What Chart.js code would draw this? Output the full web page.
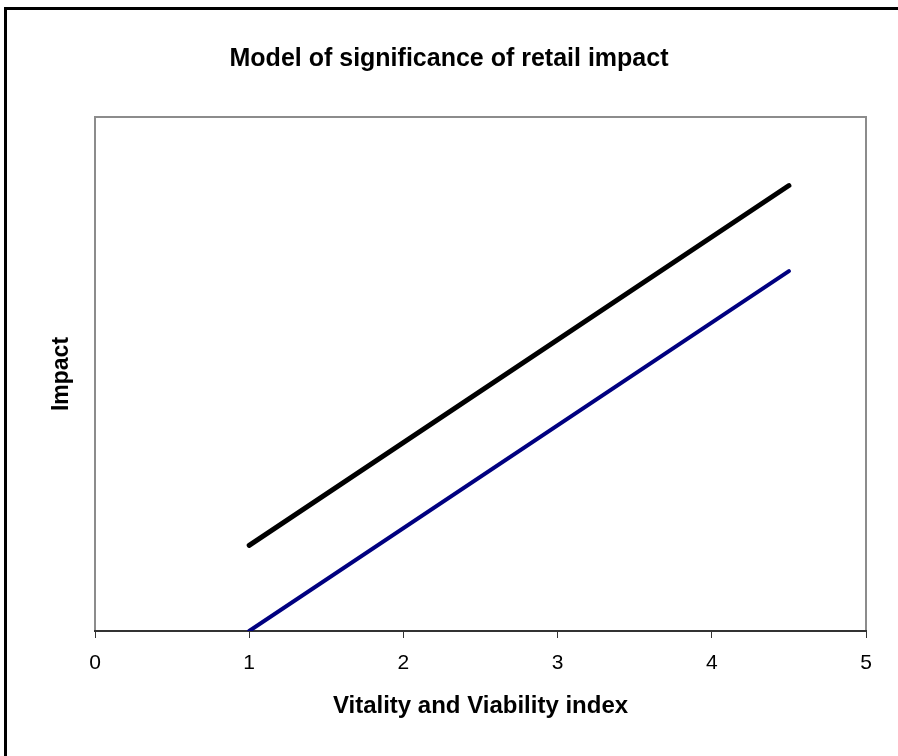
<!DOCTYPE html>
<html>
<head>
<meta charset="utf-8">
<script src="https://cdn.jsdelivr.net/npm/chart.js@4/dist/chart.umd.min.js"></script>
<style>
  html, body { margin: 0; padding: 0; background: #fff; }
  canvas { display: block; }
</style>
</head>
<body>
<canvas id="chart" width="898" height="756"></canvas>
<script>
// values (y axis has no visible scale, 0..6 assumed)
const xTicks = [0, 1, 2, 3, 4, 5];
const upperX = [1, 4.5];
const upperY = [1, 5.2];
const lowerX = [1, 4.5];
const lowerY = [0, 4.2];

const FONT = "'Liberation Sans', Arial, sans-serif";

const toPoints = (xs, ys) => xs.map((x, i) => ({ x, y: ys[i] }));

// white page, black frame on top/left, grey box round the plot
const framePlugin = {
    id: "frame",
    beforeDraw(chart) {
        const ctx = chart.ctx;
        ctx.save();
        ctx.fillStyle = "#fff";
        ctx.fillRect(0, 0, chart.width, chart.height);
        ctx.strokeStyle = "#000";
        ctx.lineWidth = 3;
        ctx.beginPath();
        ctx.moveTo(5.5, chart.height);
        ctx.lineTo(5.5, 8.5);
        ctx.lineTo(chart.width, 8.5);
        ctx.stroke();
        const a = chart.chartArea;
        ctx.strokeStyle = "#8c8c8c";
        ctx.lineWidth = 2;
        ctx.strokeRect(a.left, a.top, a.right - a.left, a.bottom - a.top);
        ctx.restore();
    },
};

new Chart(document.getElementById("chart"), {
    type: "scatter",
    data: {
        datasets: [
            {
                data: toPoints(upperX, upperY),
                showLine: true,
                borderColor: "#000000",
                borderWidth: 5,
                borderCapStyle: "round",
                pointRadius: 0,
            },
            {
                data: toPoints(lowerX, lowerY),
                showLine: true,
                borderColor: "#000080",
                borderWidth: 4,
                borderCapStyle: "round",
                pointRadius: 0,
            },
        ],
    },
    options: {
        responsive: false,
        animation: false,
        layout: { padding: 0 },
        plugins: {
            legend: { display: false },
            tooltip: { enabled: false },
            title: {
                display: true,
                text: "Model of significance of retail impact",
                color: "#000",
                font: { family: FONT, size: 25, weight: "bold" },
                padding: { top: 44, bottom: 43 },
            },
        },
        scales: {
            x: {
                type: "linear",
                min: 0,
                max: 5,
                afterBuildTicks: (scale) => {
                    scale.ticks = xTicks.map((v) => ({ value: v }));
                },
                afterFit: (scale) => { scale.height = 125; },
                grid: {
                    drawOnChartArea: false,
                    drawTicks: true,
                    tickLength: 7,
                    tickColor: "#333",
                    tickWidth: 1,
                },
                border: { display: true, color: "#333", width: 2 },
                ticks: {
                    color: "#000",
                    padding: 13,
                    font: { family: FONT, size: 21 },
                },
                title: {
                    display: true,
                    text: "Vitality and Viability index",
                    color: "#000",
                    font: { family: FONT, size: 24, weight: "bold" },
                    padding: { top: 0, bottom: 35 },
                },
            },
            y: {
                type: "linear",
                min: 0,
                max: 6,
                afterFit: (scale) => { scale.width = 95; },
                grid: { display: false },
                border: { display: false },
                ticks: { display: false },
                title: {
                    display: true,
                    text: "Impact",
                    color: "#000",
                    font: { family: FONT, size: 23, weight: "bold" },
                    padding: { top: 48, bottom: 0 },
                },
            },
            // empty strip on the right so the title stays centred on the page
            spacer: {
                type: "linear",
                position: "right",
                afterFit: (scale) => { scale.width = 32; },
                grid: { display: false },
                border: { display: false },
                ticks: { display: false },
            },
        },
    },
    plugins: [framePlugin],
});
</script>
</body>
</html>
